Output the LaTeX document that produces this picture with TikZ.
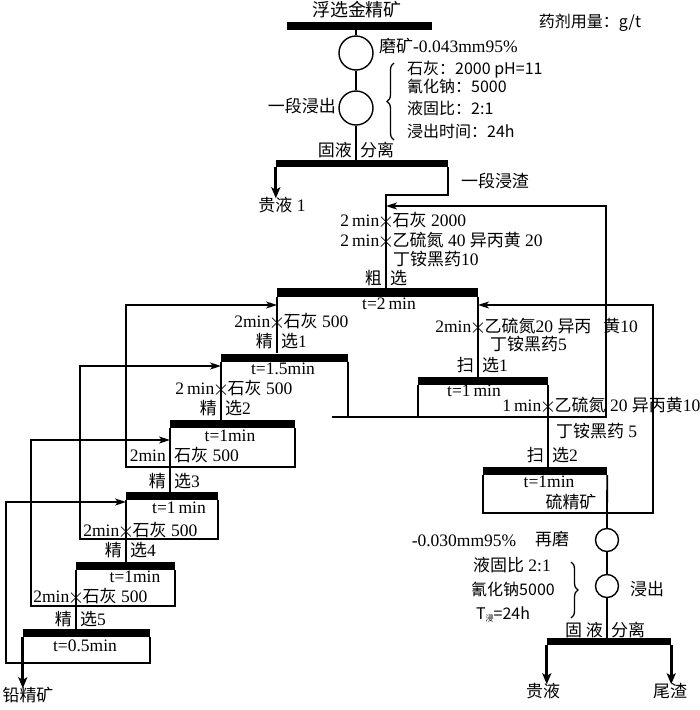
\documentclass[tikz,border=0pt]{standalone}
\usepackage{fontspec}
\usepackage{graphicx}
\setmainfont{Liberation Serif}
\newfontfamily\zh[Scale=0.97]{Noto Sans CJK SC}
\newfontfamily\zhsans{Noto Sans CJK SC}
\usetikzlibrary{arrows.meta, decorations.pathreplacing}

\tikzset{
  every node/.style={font=\fontsize{17.5}{20}\selectfont, inner sep=0pt},
  lbl/.style={text height=12pt, text depth=3pt},
  sanslbl/.style={lbl, font=\fontsize{16}{19}\selectfont\zhsans},
  flowbar/.style={fill=black, minimum height=8pt, inner sep=0pt},
  flowline/.style={line width=1.8pt},
  feedarrow/.style={flowline, -{Stealth[length=11pt,width=7pt,inset=3pt]}},
  prodarrow/.style={line width=3pt, -{Stealth[length=11pt,width=9pt,inset=2.5pt]}},
  unitop/.style={circle, draw, line width=1.4pt, minimum size=34pt},
  smallunit/.style={unitop, minimum size=23pt},
  bracket/.style={decorate, decoration={brace, amplitude=7pt}, line width=1.3pt},
}

% reagent addition point: left text, cross on the line, right text
\newcommand{\dosing}[4]{%
  \node[lbl, anchor=east] (#1-l) at ([xshift=-6.5pt]#2) {#3};
  \node (#1-x) at (#2) {\scalebox{1.25}{$\times$}};
  \node[lbl, anchor=west] (#1-r) at ([xshift=6.5pt]#2) {#4};}
% label split by a stream line
\newcommand{\straddle}[4]{%
  \node[lbl, anchor=east] (#1-l) at ([xshift=-4pt]#2) {#3};
  \node[lbl, anchor=west] (#1-r) at ([xshift=4pt]#2) {#4};}

\begin{document}
\begin{tikzpicture}[x=1pt, y=-1pt]
  \useasboundingbox (0,0) rectangle (700,710);

  %% First leaching
  \node[lbl, font=\fontsize{18.5}{20}\selectfont\zh] (feedname) at (357,12) {浮选金精矿};
  \node[sanslbl] (dosage) at (590,23) {药剂用量：g/t};
  \node[flowbar, minimum width=145pt] (feedbar) at (359.5,26) {};
  \node[unitop] (grind) at (356,53) {};
  \node[unitop] (leach1) at (356,108) {};
  \node[lbl, anchor=west] (grindtxt) at (379,48) {{\zh 磨矿}-0.043mm95\%};
  \node[lbl, anchor=east] (leach1txt) at (336,108) {\zh 一段浸出};
  \draw[bracket] (394,140) -- (394,63);
  \node[sanslbl, anchor=west] (cond1) at (407,70) {石灰：2000 pH=11};
  \node[sanslbl, anchor=west] (cond2) at (407,88) {氰化钠：5000};
  \node[sanslbl, anchor=west] (cond3) at (407,110) {液固比：2:1};
  \node[sanslbl, anchor=west] (cond4) at (407,133) {浸出时间：24h};
  \straddle{sep1txt}{356,152}{\zh 固液}{\zh 分离}
  \node[flowbar, minimum width=172pt, minimum height=7pt] (sep1) at (362,163.5) {};
  \node[lbl] (preg1) at (282,207) {{\zh 贵液} 1};
  \node[lbl] (res1) at (495,183) {\zh 一段浸渣};

  \draw[flowline] (feedbar.south -| grind) -- (grind.north);
  \draw[flowline] (grind.south) -- (leach1.north);
  \draw[flowline] (leach1.south) -- (sep1.north -| leach1);
  \draw[prodarrow, shorten >=1pt] (sep1.south west) -- (sep1.south west |- preg1.north);

  %% Rougher
  \coordinate (feedturn) at (386,195);
  \coordinate (recyin) at (386,206);
  \node[flowbar, minimum width=201pt, minimum height=9pt] (rough) at (377.5,292.5) {};
  \dosing{rd1}{386,222}{2\,min}{{\zh 石灰} 2000}
  \dosing{rd2}{386,242}{2\,min}{{\zh 乙硫氮} 40 {\zh 异丙黄} 20}
  \node[lbl, anchor=west] (rd3) at (393,261) {{\zh 丁铵黑药}10};
  \straddle{roughtxt}{386,280}{\zh 粗}{\zh 选}
  \node[lbl] (roughtime) at (389,305) {t=2\,min};
  \draw[flowline] (sep1.south east) |- (feedturn) -- (rough.north -| feedturn);

  %% Cleaners
  \node[flowbar, minimum width=127pt] (cl1) at (284.5,357.5) {};
  \dosing{cd1}{277,323}{2min}{{\zh 石灰} 500}
  \straddle{cl1txt}{277,343}{\zh 精}{{\zh 选}1}
  \node[lbl] (cl1time) at (283,370) {t=1.5min};
  \dosing{cd2}{221,390}{2\,min}{{\zh 石灰} 500}

  \node[flowbar, minimum width=125pt] (cl2) at (232.5,424) {};
  \straddle{cl2txt}{221,410}{\zh 精}{{\zh 选}2}
  \node[lbl] (cl2time) at (230,437) {t=1min};
  \straddle{cd3}{170,457}{2min}{{\zh 石灰} 500}

  \node[flowbar, minimum width=92pt] (cl3) at (172,496) {};
  \straddle{cl3txt}{170,483}{\zh 精}{{\zh 选}3}
  \node[lbl] (cl3time) at (179,509) {t=1\,min};
  \dosing{cd4}{126,532}{2min}{{\zh 石灰} 500}

  \node[flowbar, minimum width=99pt] (cl4) at (125.5,566) {};
  \straddle{cl4txt}{126,552}{\zh 精}{{\zh 选}4}
  \node[lbl] (cl4time) at (135,578) {t=1min};
  \dosing{cd5}{76,598}{2min}{{\zh 石灰} 500}

  \node[flowbar, minimum width=127pt] (cl5) at (86.5,633) {};
  \straddle{cl5txt}{76,621}{\zh 精}{{\zh 选}5}
  \node[lbl] (cl5time) at (85,647) {t=0.5min};
  \node[lbl] (lead) at (28,697) {\zh 铅精矿};

  \draw[flowline] (rough.south west) -- (cl1.north -| rough.south west);
  \draw[flowline] (cl1.south west) -- (cl2.north -| cl1.south west);
  \draw[flowline] (cl2.south west) -- (cl3.north -| cl2.south west);
  \draw[flowline] (cl3.south west) -- (cl4.north -| cl3.south west);
  \draw[flowline] (cl4.south west) -- (cl5.north -| cl4.south west);
  \draw[prodarrow, shorten >=1pt] (cl5.south west) -- (cl5.south west |- lead.north);

  % cleaner tails back one stage up
  \coordinate (cl2tail) at (126,467);
  \coordinate (cl3tail) at (80,539);
  \coordinate (cl4tail) at (31,606);
  \coordinate (cl5tail) at (6,663);
  \coordinate (roughin) at (277,305);
  \coordinate (cl1in) at (221,366);
  \coordinate (cl2in) at (170,440);
  \coordinate (cl3in) at (126,502);
  \draw[feedarrow] (cl2.south east) |- (cl2tail) |- (roughin);
  \draw[feedarrow] (cl3.south east) |- (cl3tail) |- (cl1in);
  \draw[feedarrow] (cl4.south east) |- (cl4tail) |- (cl2in);
  \draw[feedarrow] (cl5.south east) |- (cl5tail) |- (cl3in);

  %% Scavengers
  \node[flowbar, minimum width=130pt] (sc1) at (483,381) {};
  \dosing{sd1}{478,328}{2min}{{\zh 乙硫氮}20 {\zh 异丙}\hspace{12pt}{\zh 黄}10}
  \node[lbl, anchor=west] (sd2) at (490,346) {{\zh 丁铵黑药}5};
  \straddle{sc1txt}{478,367}{\zh 扫}{{\zh 选}1}
  \node[lbl] (sc1time) at (474,392) {t=1\,min};

  \node[flowbar, minimum width=124pt] (sc2) at (545,471) {};
  \dosing{sd3}{548,407}{1\,min}{{\zh 乙硫氮} 20 {\zh 异丙黄}10}
  \node[lbl, anchor=west] (sd4) at (556,433) {{\zh 丁铵黑药} 5};
  \straddle{sc2txt}{548,457}{\zh 扫}{{\zh 选}2}
  \node[lbl] (sc2time) at (549,483) {t=1min};
  \node[lbl] (sulf) at (571,504) {\zh 硫精矿};

  \draw[flowline] (rough.south east) -- (sc1.north -| rough.south east);
  \draw[flowline] (sc1.south east) -- (sc2.north -| sc1.south east);

  % middlings back to rougher feed
  \coordinate (midL) at (332,417);
  \coordinate (midR) at (606,417);
  \draw[flowline] (cl1.south east) -- (cl1.south east |- midL);
  \draw[flowline] (sc1.south west) -- (sc1.south west |- midL);
  \draw[feedarrow] (midL) -- (midR) |- (recyin);

  \coordinate (sc2tail) at (653,513);
  \coordinate (scavin) at (478,305);
  \draw[feedarrow] (sc2.south west) |- (sc2tail) |- (scavin);

  %% Regrind and second leaching
  \node[smallunit] (regrind) at (607,540) {};
  \node[smallunit] (leach2) at (607,586) {};
  \node[lbl] (regrindsize) at (464,542) {-0.030mm95\%};
  \node[lbl] (regrindtxt) at (552,541) {\zh 再磨};
  \draw[bracket] (571,562) -- (571,618);
  \node[lbl] (cond5) at (512,567) {{\zh 液固比} 2:1};
  \node[sanslbl] (cond6) at (513,591) {氰化钠5000};
  \node[sanslbl] (cond7) at (503,615) {T\raisebox{-2pt}{\fontsize{8}{8}\selectfont 浸}=24h};
  \node[lbl] (leach2txt) at (647,591) {\zh 浸出};
  \straddle{sep2txt}{607,632}{\zh 固 液}{\zh 分离}
  \node[flowbar, minimum width=124pt, minimum height=7pt] (sep2) at (609,641.5) {};
  \node[lbl] (preg2) at (543,693) {\zh 贵液};
  \node[lbl] (tail) at (670,693) {\zh 尾渣};

  \draw[flowline] (sc2.south east) -- (regrind.north);
  \draw[flowline] (regrind.south) -- (leach2.north);
  \draw[flowline] (leach2.south) -- (sep2.north -| leach2);
  \draw[prodarrow, shorten >=1pt] (sep2.south west) -- (sep2.south west |- preg2.north);
  \draw[prodarrow, shorten >=1pt] (sep2.south east) -- (sep2.south east |- tail.north);
\end{tikzpicture}
\end{document}
